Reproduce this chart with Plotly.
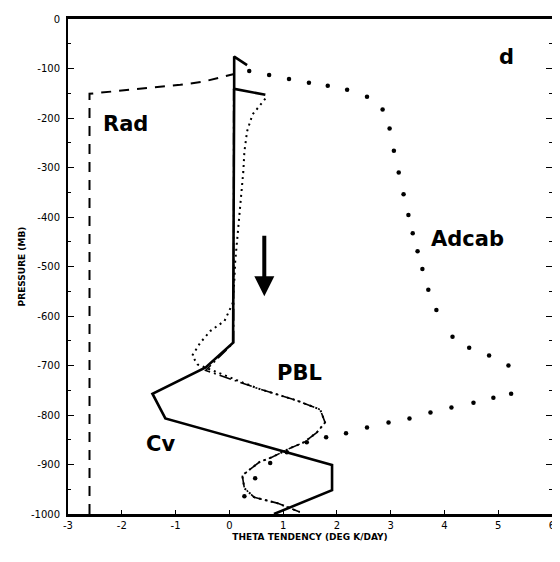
import plotly.graph_objects as go

# ---- data (theta tendency, K/day ; pressure, mb as negative) ----
rad_x = [-2.6, -2.6, -0.91, -0.5, 0.09]
rad_p = [-1000, -151, -133, -127, -111]

cv_x = [0.33, 0.09, 0.09, 0.67, None, 0.09, 0.07, -0.44, -1.43, -1.19, 1.91, 1.91, 0.83]
cv_p = [-93, -76, -141, -153, None, -141, -654, -704, -757, -807, -901, -952, -1000]

pbl_x = [0.08, 0.08, -0.44, 0.52, 1.26, 1.69, 1.78, 1.63, 1.39, 1.13, 0.80, 0.56, 0.24, 0.28, 0.46, 0.89, 1.31]
pbl_p = [-141, -654, -710, -746, -771, -789, -815, -835, -855, -867, -885, -895, -922, -948, -966, -978, -996]

tot_x = [0.67, 0.43, 0.33, 0.28, 0.26, 0.19, 0.15, 0.11, 0.09, 0.06, -0.09, -0.35, -0.54, -0.69, -0.59,
         0.52, 1.26, 1.69, 1.78, 1.63, 1.39, 1.13, 0.80, 0.56, 0.24, 0.28, 0.46, 0.89, 1.31]
tot_p = [-161, -193, -227, -268, -308, -388, -435, -489, -535, -575, -610, -630, -654, -680, -698,
         -746, -771, -789, -815, -835, -855, -867, -885, -895, -922, -948, -966, -978, -996]

adcab_x = [0.37, 0.74, 1.11, 1.48, 1.83, 2.19, 2.56, 2.85, 2.98, 3.06, 3.15, 3.24, 3.33, 3.41, 3.50, 3.59,
           3.70, 3.85, 4.15, 4.46, 4.83, 5.19, 5.24, 4.91, 4.54, 4.13, 3.74, 3.35, 2.96, 2.56, 2.17,
           1.80, 1.44, 1.07, 0.76, 0.48, 0.28]
adcab_p = [-105, -113, -121, -129, -135, -143, -157, -183, -221, -266, -310, -354, -396, -433, -469, -505,
           -547, -588, -642, -664, -680, -700, -757, -765, -775, -785, -795, -807, -815, -825, -837,
           -845, -855, -875, -897, -928, -964]

x_ticks = [-3, -2, -1, 0, 1, 2, 3, 4, 5, 6]
y_ticks = [0, -100, -200, -300, -400, -500, -600, -700, -800, -900, -1000]

fig = go.Figure()
fig.add_trace(go.Scatter(x=rad_x, y=rad_p, mode="lines", name="Rad",
                         line=dict(color="black", width=2, dash="10px,8px")))
fig.add_trace(go.Scatter(x=tot_x, y=tot_p, mode="lines", name="Total",
                         line=dict(color="black", width=2, dash="2px,4px")))
fig.add_trace(go.Scatter(x=pbl_x, y=pbl_p, mode="lines", name="PBL",
                         line=dict(color="black", width=1.6, dash="12px,4px,2px,4px")))
fig.add_trace(go.Scatter(x=cv_x, y=cv_p, mode="lines", name="Cv",
                         line=dict(color="black", width=2.6)))
fig.add_trace(go.Scatter(x=adcab_x, y=adcab_p, mode="markers", name="Adcab",
                         marker=dict(color="black", size=4.5)))

hand = dict(family="DejaVu Sans", size=21, color="black")
for txt, x, y in [("Rad", -1.94, -213), ("Adcab", 4.43, -445), ("Cv", -1.28, -859),
                  ("PBL", 1.3, -716), ("d", 5.15, -76)]:
    fig.add_annotation(x=x, y=y, text="<b>%s</b>" % txt, showarrow=False, font=hand)

fig.add_annotation(x=0.65, y=-560, ax=0.65, ay=-435, axref="x", ayref="y",
                   showarrow=True, arrowhead=2, arrowsize=1.0, arrowwidth=4,
                   arrowcolor="black", text="")

tickfont = dict(family="DejaVu Sans", size=10, color="black")
fig.update_layout(
    width=552, height=544,
    margin=dict(l=60, r=5, t=9, b=38),
    paper_bgcolor="white", plot_bgcolor="white",
    showlegend=False,
    xaxis=dict(range=[-3, 6], tickvals=x_ticks, ticktext=[str(v) for v in x_ticks],
               showgrid=False, zeroline=False, showline=True, linecolor="black", linewidth=2.5,
               ticks="inside", ticklen=4, tickcolor="black", mirror=True,
               tickfont=tickfont, ticklabeloverflow="allow",
               title=dict(text="<b>THETA TENDENCY (DEG K/DAY)</b>",
                          font=dict(family="DejaVu Sans", size=9, color="black"), standoff=4)),
    yaxis=dict(range=[-1000, 0], tickvals=y_ticks, ticktext=[str(v) for v in y_ticks],
               showgrid=False, zeroline=False, showline=True, linecolor="black", linewidth=2,
               ticks="inside", ticklen=6, tickcolor="black", mirror="allticks",
               minor=dict(dtick=50, ticks="inside", ticklen=3, tickcolor="black"),
               tickfont=tickfont, ticklabelstandoff=4,
               title=dict(text="<b>PRESSURE (MB)</b>",
                          font=dict(family="DejaVu Sans", size=9, color="black"), standoff=4)),
)

fig.write_html("out.html")
